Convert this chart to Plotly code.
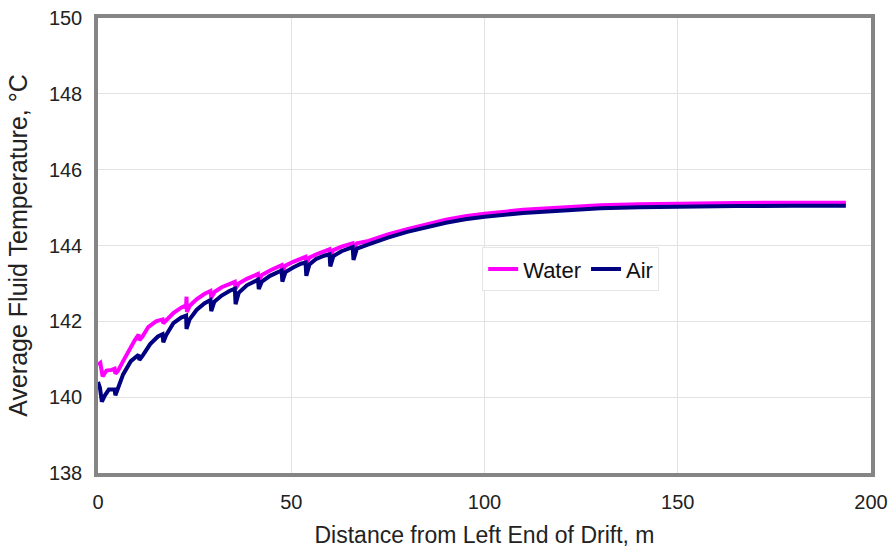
import plotly.graph_objects as go

# ---- data ----
water_x = [0, 0.6, 1.2, 2.2, 3.5, 4.3, 4.5, 5.2, 6.5, 8, 9.5, 10.5, 10.7, 11.5, 13, 15, 16.7, 16.9,
           17.8, 19.5, 21.5, 22.8, 22.9, 23.0, 23.8, 25.5, 27.5, 29.1, 29.3, 30.2, 32, 34, 35.4, 35.6,
           36.4, 38.5, 40.5, 41.4, 41.6, 42.4, 44.5, 46.5, 47.5, 47.7, 48.5, 50.5, 52.5, 53.7, 53.9,
           54.7, 56.5, 58.5, 59.9, 60.1, 60.9, 63, 65, 65.9, 66.1, 67, 70, 75, 80, 85, 90, 95, 100,
           110, 120, 130, 140, 150, 165, 180, 193.5]
water_t = [140.85, 140.9, 140.55, 140.7, 140.72, 140.75, 140.62, 140.7, 140.95, 141.25, 141.5, 141.65, 141.5,
           141.6, 141.85, 142.0, 142.05, 141.95, 142.05, 142.22, 142.36, 142.42, 142.65, 142.25, 142.42,
           142.58, 142.72, 142.8, 142.62, 142.78, 142.9, 142.99, 143.04, 142.86, 143.0, 143.12, 143.21,
           143.25, 143.08, 143.22, 143.34, 143.44, 143.48, 143.32, 143.47, 143.57, 143.66, 143.7, 143.54,
           143.68, 143.77, 143.85, 143.9, 143.74, 143.88, 143.97, 144.04, 144.06, 143.92, 144.06, 144.12,
           144.29, 144.43, 144.56, 144.68, 144.77, 144.84, 144.94, 145.01, 145.06, 145.09, 145.11, 145.12,
           145.13, 145.13]

air_x = [0, 0.5, 1.0, 1.8, 2.8, 4.3, 4.5, 5.3, 6.5, 8.5, 10.5, 10.7, 11.6, 13.5, 15.5, 16.7, 16.9, 17.7,
         19.5, 21.5, 22.8, 22.9, 23.7, 25.5, 27.5, 29.1, 29.3, 30.1, 32, 34, 35.4, 35.6, 36.4, 38.5, 40.5,
         41.4, 41.6, 42.4, 44.5, 46.5, 47.5, 47.7, 48.5, 50.5, 52.5, 53.7, 53.9, 54.7, 56.5, 58.5, 59.9,
         60.1, 60.9, 63, 65, 65.9, 66.1, 67, 70, 75, 80, 85, 90, 95, 100, 110, 120, 130, 140, 150, 165,
         180, 193.5]
air_t = [140.4, 140.25, 139.88, 140.05, 140.2, 140.2, 140.05, 140.25, 140.6, 140.95, 141.12, 140.98, 141.1,
         141.4, 141.6, 141.66, 141.45, 141.65, 141.95, 142.1, 142.15, 141.8, 142.05, 142.3, 142.47, 142.56,
         142.27, 142.52, 142.68, 142.8, 142.86, 142.45, 142.75, 142.95, 143.05, 143.1, 142.85, 143.05,
         143.2, 143.3, 143.34, 143.05, 143.3, 143.42, 143.52, 143.55, 143.2, 143.5, 143.65, 143.73, 143.77,
         143.45, 143.72, 143.85, 143.93, 143.96, 143.62, 143.92, 144.03, 144.21, 144.36, 144.49, 144.6,
         144.69, 144.76, 144.86, 144.93, 144.98, 145.01, 145.03, 145.04, 145.05, 145.05]

x_ticks = [0, 50, 100, 150, 200]
y_ticks = [138, 140, 142, 144, 146, 148, 150]

fig = go.Figure()
fig.add_trace(go.Scatter(x=water_x, y=water_t, mode="lines", name="Water",
                         line=dict(color="#ff00ff", width=4)))
fig.add_trace(go.Scatter(x=air_x, y=air_t, mode="lines", name="Air",
                         line=dict(color="#000080", width=4)))

font_family = "Liberation Sans, Arial, sans-serif"
fig.update_layout(
    width=891, height=548,
    margin=dict(l=98, r=20, t=18, b=75, autoexpand=False),
    paper_bgcolor="white", plot_bgcolor="white",
    font=dict(family=font_family, size=20, color="#222222"),
    showlegend=True,
    legend=dict(orientation="h", x=0.497, y=0.448, xanchor="left", yanchor="middle",
                bgcolor="white", bordercolor="#e6e6e6", borderwidth=1,
                font=dict(size=22, color="#111111")),
    xaxis=dict(range=[0, 200], tickvals=x_ticks, showgrid=True, gridcolor="#e2e2e2", gridwidth=1,
               showline=True, linecolor="#858585", linewidth=3.5, mirror=True, zeroline=False,
               ticks="", ticklabelstandoff=8, automargin=False,
               title=dict(text="Distance from Left End of Drift, m", font=dict(size=23),
                          standoff=16)),
    yaxis=dict(range=[138, 150], tickvals=y_ticks, showgrid=True, gridcolor="#e2e2e2", gridwidth=1,
               showline=True, linecolor="#858585", linewidth=3.5, mirror=True, zeroline=False,
               ticks="", ticklabelstandoff=8, automargin=False,
               title=dict(text="Average Fluid Temperature, °C", font=dict(size=25),
                          standoff=15)),
)

fig.write_html("out.html")
